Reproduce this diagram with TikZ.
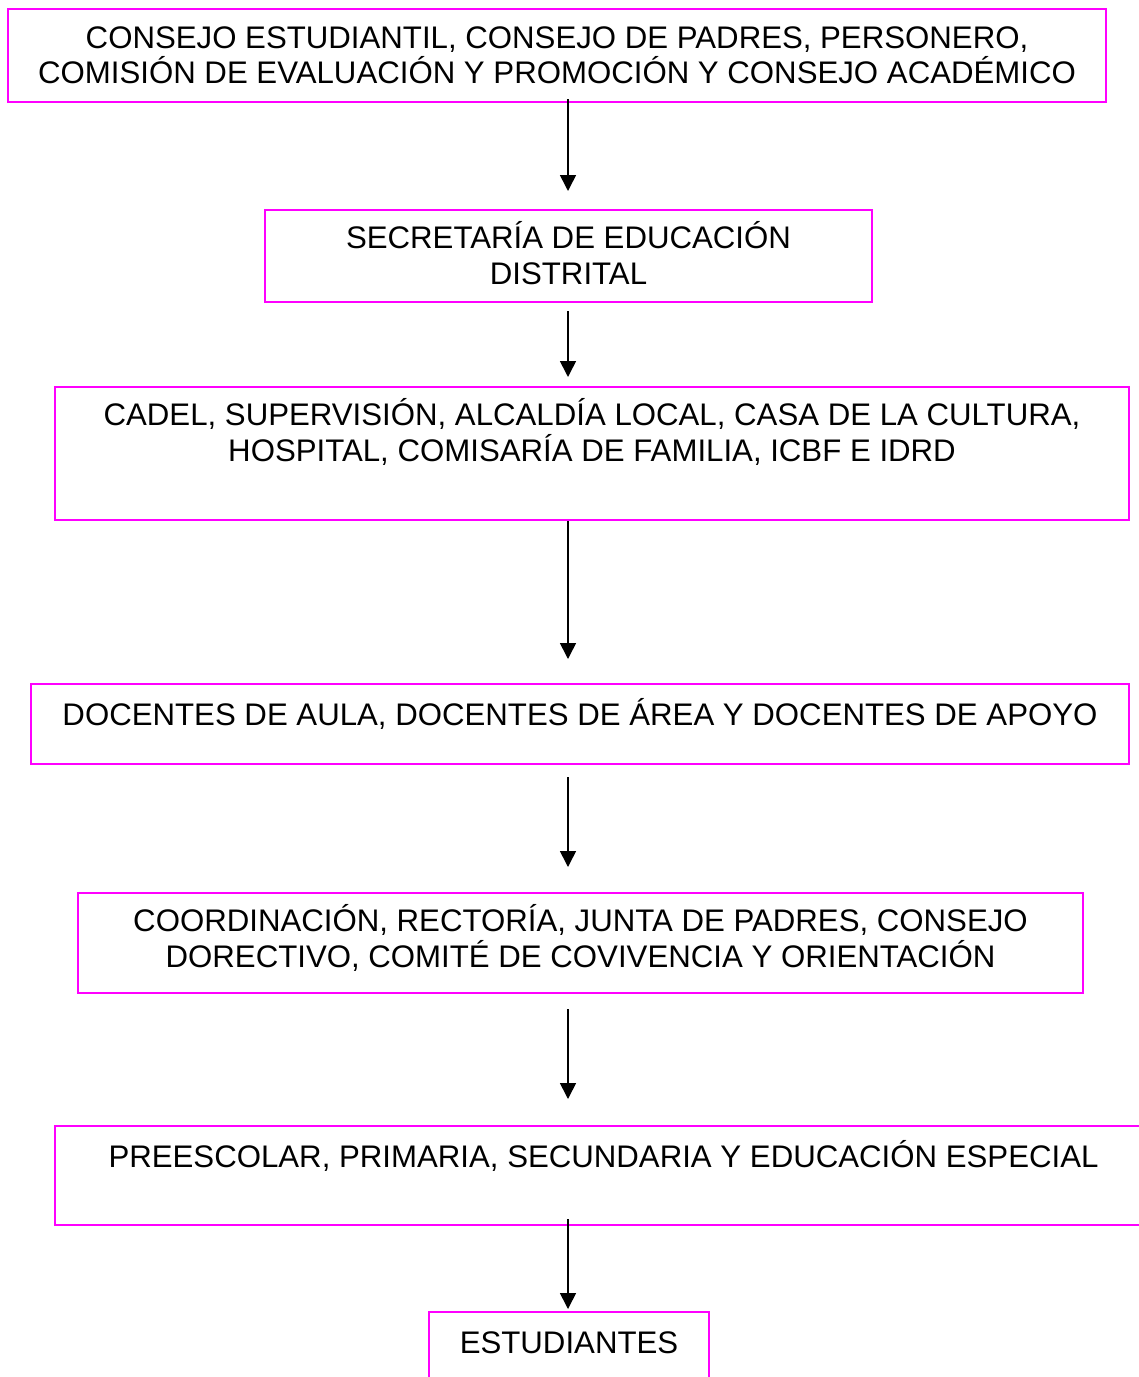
\documentclass[tikz,border=0pt]{standalone}
\usepackage{fontspec}
\setmainfont{Liberation Sans}
\usetikzlibrary{arrows.meta}
\definecolor{rosa}{RGB}{255,0,255}

\tikzset{
  caja/.style={draw=rosa, line width=1pt, inner sep=0pt},
  texto/.style={anchor=north, align=center, inner sep=0pt, yshift=-6pt,
    font=\fontsize{15.6}{17.8}\selectfont, execute at begin node=\rule{0pt}{15pt}},
  flecha/.style={-{Triangle[length=8pt,width=8pt]}, line width=0.8pt}
}

\begin{document}
\begin{tikzpicture}[x=0.5pt, y=-0.5pt]
\useasboundingbox (0,0) rectangle (1139,1377);
\clip (0,0) rectangle (1139,1377);
\coordinate (eje) at (568,0); % arrow axis

% boxes
\node[caja, minimum width=549pt, minimum height=46.5pt] (b1) at (557,55.5) {};
\node[caja, minimum width=303.5pt, minimum height=46pt] (b2) at (568.5,256) {};
\node[caja, minimum width=537pt, minimum height=66.5pt] (b3) at (592,453.5) {};
\node[caja, minimum width=549pt, minimum height=40pt] (b4) at (580,724) {};
\node[caja, minimum width=502.5pt, minimum height=50pt] (b5) at (580.5,943) {};
\node[caja, minimum width=548.5pt, minimum height=49.5pt] (b6) at (603.5,1175.5) {};
\node[caja, minimum width=140pt, minimum height=44pt] (b7) at (569,1356) {};

% texts
\node[texto, yshift=-3pt] (t1) at (b1.north) {CONSEJO ESTUDIANTIL, CONSEJO DE PADRES, PERSONERO,\\COMISIÓN DE EVALUACIÓN Y PROMOCIÓN Y CONSEJO ACADÉMICO};
\node[texto] (t2) at (b2.north) {SECRETARÍA DE EDUCACIÓN\\DISTRITAL};
\node[texto] (t3) at (b3.north) {CADEL, SUPERVISIÓN, ALCALDÍA LOCAL, CASA DE LA CULTURA,\\HOSPITAL, COMISARÍA DE FAMILIA, ICBF E IDRD};
\node[texto] (t4) at (b4.north) {DOCENTES DE AULA, DOCENTES DE ÁREA Y DOCENTES DE APOYO};
\node[texto] (t5) at (b5.north) {COORDINACIÓN, RECTORÍA, JUNTA DE PADRES, CONSEJO\\DORECTIVO, COMITÉ DE COVIVENCIA Y ORIENTACIÓN};
\node[texto] (t6) at (b6.north) {PREESCOLAR, PRIMARIA, SECUNDARIA Y EDUCACIÓN ESPECIAL};
\node[texto] (t7) at (b7.north) {ESTUDIANTES};

% arrows
\draw[flecha, shorten <=-2pt, shorten >=9pt] (b1.south -| eje) -- (b2.north -| eje);
\draw[flecha, shorten <=4pt, shorten >=4.5pt] (b2.south -| eje) -- (b3.north -| eje);
\draw[flecha, shorten >=12pt] (b3.south -| eje) -- (b4.north -| eje);
\draw[flecha, shorten <=6pt, shorten >=12.5pt] (b4.south -| eje) -- (b5.north -| eje);
\draw[flecha, shorten <=7.5pt, shorten >=13pt] (b5.south -| eje) -- (b6.north -| eje);
\draw[flecha, shorten <=-3.5pt, shorten >=1pt] (b6.south -| eje) -- (b7.north -| eje);
\end{tikzpicture}
\end{document}
